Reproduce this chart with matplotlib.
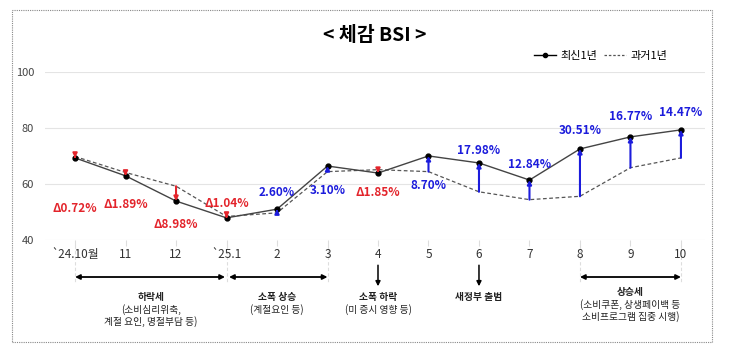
import matplotlib
matplotlib.use("Agg")
import matplotlib.pyplot as plt
from matplotlib.lines import Line2D
from matplotlib.patches import Rectangle

plt.rcParams['font.family'] = ['Noto Sans CJK KR', 'DejaVu Sans']

# data
months = ["`24.10월", "11", "12", "`25.1", "2", "3", "4", "5", "6", "7", "8", "9", "10"]
latest = [69.3, 62.9, 53.9, 47.9, 51.0, 66.4, 63.9, 70.0, 67.5, 61.4, 72.5, 76.8, 79.3]
past = [69.8, 64.1, 59.2, 48.4, 49.7, 64.4, 65.1, 64.4, 57.2, 54.4, 55.6, 65.8, 69.3]
change_labels = ["Δ0.72%", "Δ1.89%", "Δ8.98%", "Δ1.04%", "2.60%", "3.10%", "Δ1.85%",
                 "8.70%", "17.98%", "12.84%", "30.51%", "16.77%", "14.47%"]
label_y = [51.1, 52.5, 45.4, 53.2, 56.8, 57.5, 56.8, 59.3, 72.1, 67.1, 78.9, 83.9, 85.4]

RED = "#e3242b"
BLUE = "#1c1cdc"

fig = plt.figure(figsize=(7.3, 3.54), dpi=100)
ax = fig.add_axes([0.062, 0.322, 0.904, 0.475])
x = list(range(len(months)))

ax.plot(x, past, color="#555555", lw=0.9, ls=(0, (3, 2)), zorder=2)
ax.plot(x, latest, color="#444444", lw=1.0, marker="o", ms=3.5,
        mfc="black", mec="black", zorder=3)

for i in x:
    up = latest[i] >= past[i]
    c = BLUE if up else RED
    ax.annotate("", xy=(i, latest[i]), xytext=(i, past[i]),
                arrowprops=dict(arrowstyle="-|>", color=c, lw=1.5,
                                mutation_scale=6, shrinkA=0, shrinkB=0),
                zorder=4)
    ax.text(i, label_y[i], change_labels[i], color=c, fontsize=8.5,
            fontweight="bold", ha="center", va="center")

ax.set_xlim(-0.59, 12.48)
ax.set_ylim(40, 100)
ax.set_yticks([40, 60, 80, 100])
ax.set_xticks(x)
ax.set_xticklabels(months)
ax.grid(axis="y", color="#e4e4e4", lw=0.8)
for s in ax.spines.values():
    s.set_visible(False)
ax.tick_params(axis="y", length=0, labelsize=8, colors="#444444", pad=8)
ax.tick_params(axis="x", length=4, color="#dddddd", labelsize=8.5,
               labelcolor="#333333", pad=2)

ax.set_title("< 체감 BSI >", fontsize=14, fontweight="bold", pad=22)

handles = [Line2D([], [], color="black", lw=1.0, marker="o", ms=3),
           Line2D([], [], color="#555555", lw=0.9, ls=(0, (2, 1.5)))]
ax.legend(handles, ["최신1년", "과거1년"], loc="center right", ncol=2,
          bbox_to_anchor=(0.95, 1.095), frameon=False, fontsize=8,
          handlelength=2.0, handletextpad=0.4, columnspacing=0.6,
          borderaxespad=0)

# period annotations below the axis
for xv in [0, 3, 5, 10, 12]:
    ax.plot([xv, xv], [38.2, 24.5], color="#dddddd", lw=0.8, ls=(0, (3, 2)),
            clip_on=False, zorder=1)

spans = [(0, 2.97), (3.05, 5), (10, 12)]
for a, b in spans:
    ax.annotate("", xy=(b, 26.8), xytext=(a, 26.8), annotation_clip=False,
                arrowprops=dict(arrowstyle="<|-|>", color="black", lw=1.3,
                                mutation_scale=7, shrinkA=0, shrinkB=0))
for xv in [6, 8]:
    ax.annotate("", xy=(xv, 23.5), xytext=(xv, 31.0), annotation_clip=False,
                arrowprops=dict(arrowstyle="-|>", color="black", lw=1.1,
                                mutation_scale=7, shrinkA=0, shrinkB=0))

notes = [
    (1.5, ["하락세", "(소비심리위축,", "계절 요인, 명절부담 등)"], 19.6),
    (4.0, ["소폭 상승", "(계절요인 등)"], 19.6),
    (6.0, ["소폭 하락", "(미 증시 영향 등)"], 19.6),
    (8.0, ["새정부 출범"], 19.6),
    (11.0, ["상승세", "(소비쿠폰, 상생페이백 등", "소비프로그램 집중 시행)"], 21.4),
]
for xv, lines, y0 in notes:
    for k, t in enumerate(lines):
        ax.text(xv, y0 - k * 4.4, t, ha="center", va="center", fontsize=7,
                fontweight="bold" if k == 0 else "normal", color="#222222",
                clip_on=False)

fig.patches.append(Rectangle((0.016, 0.034), 0.959, 0.938, transform=fig.transFigure,
                             fill=False, ec="#888888", lw=0.8, ls=(0, (1, 1))))

fig.savefig("out.png", dpi=100)
